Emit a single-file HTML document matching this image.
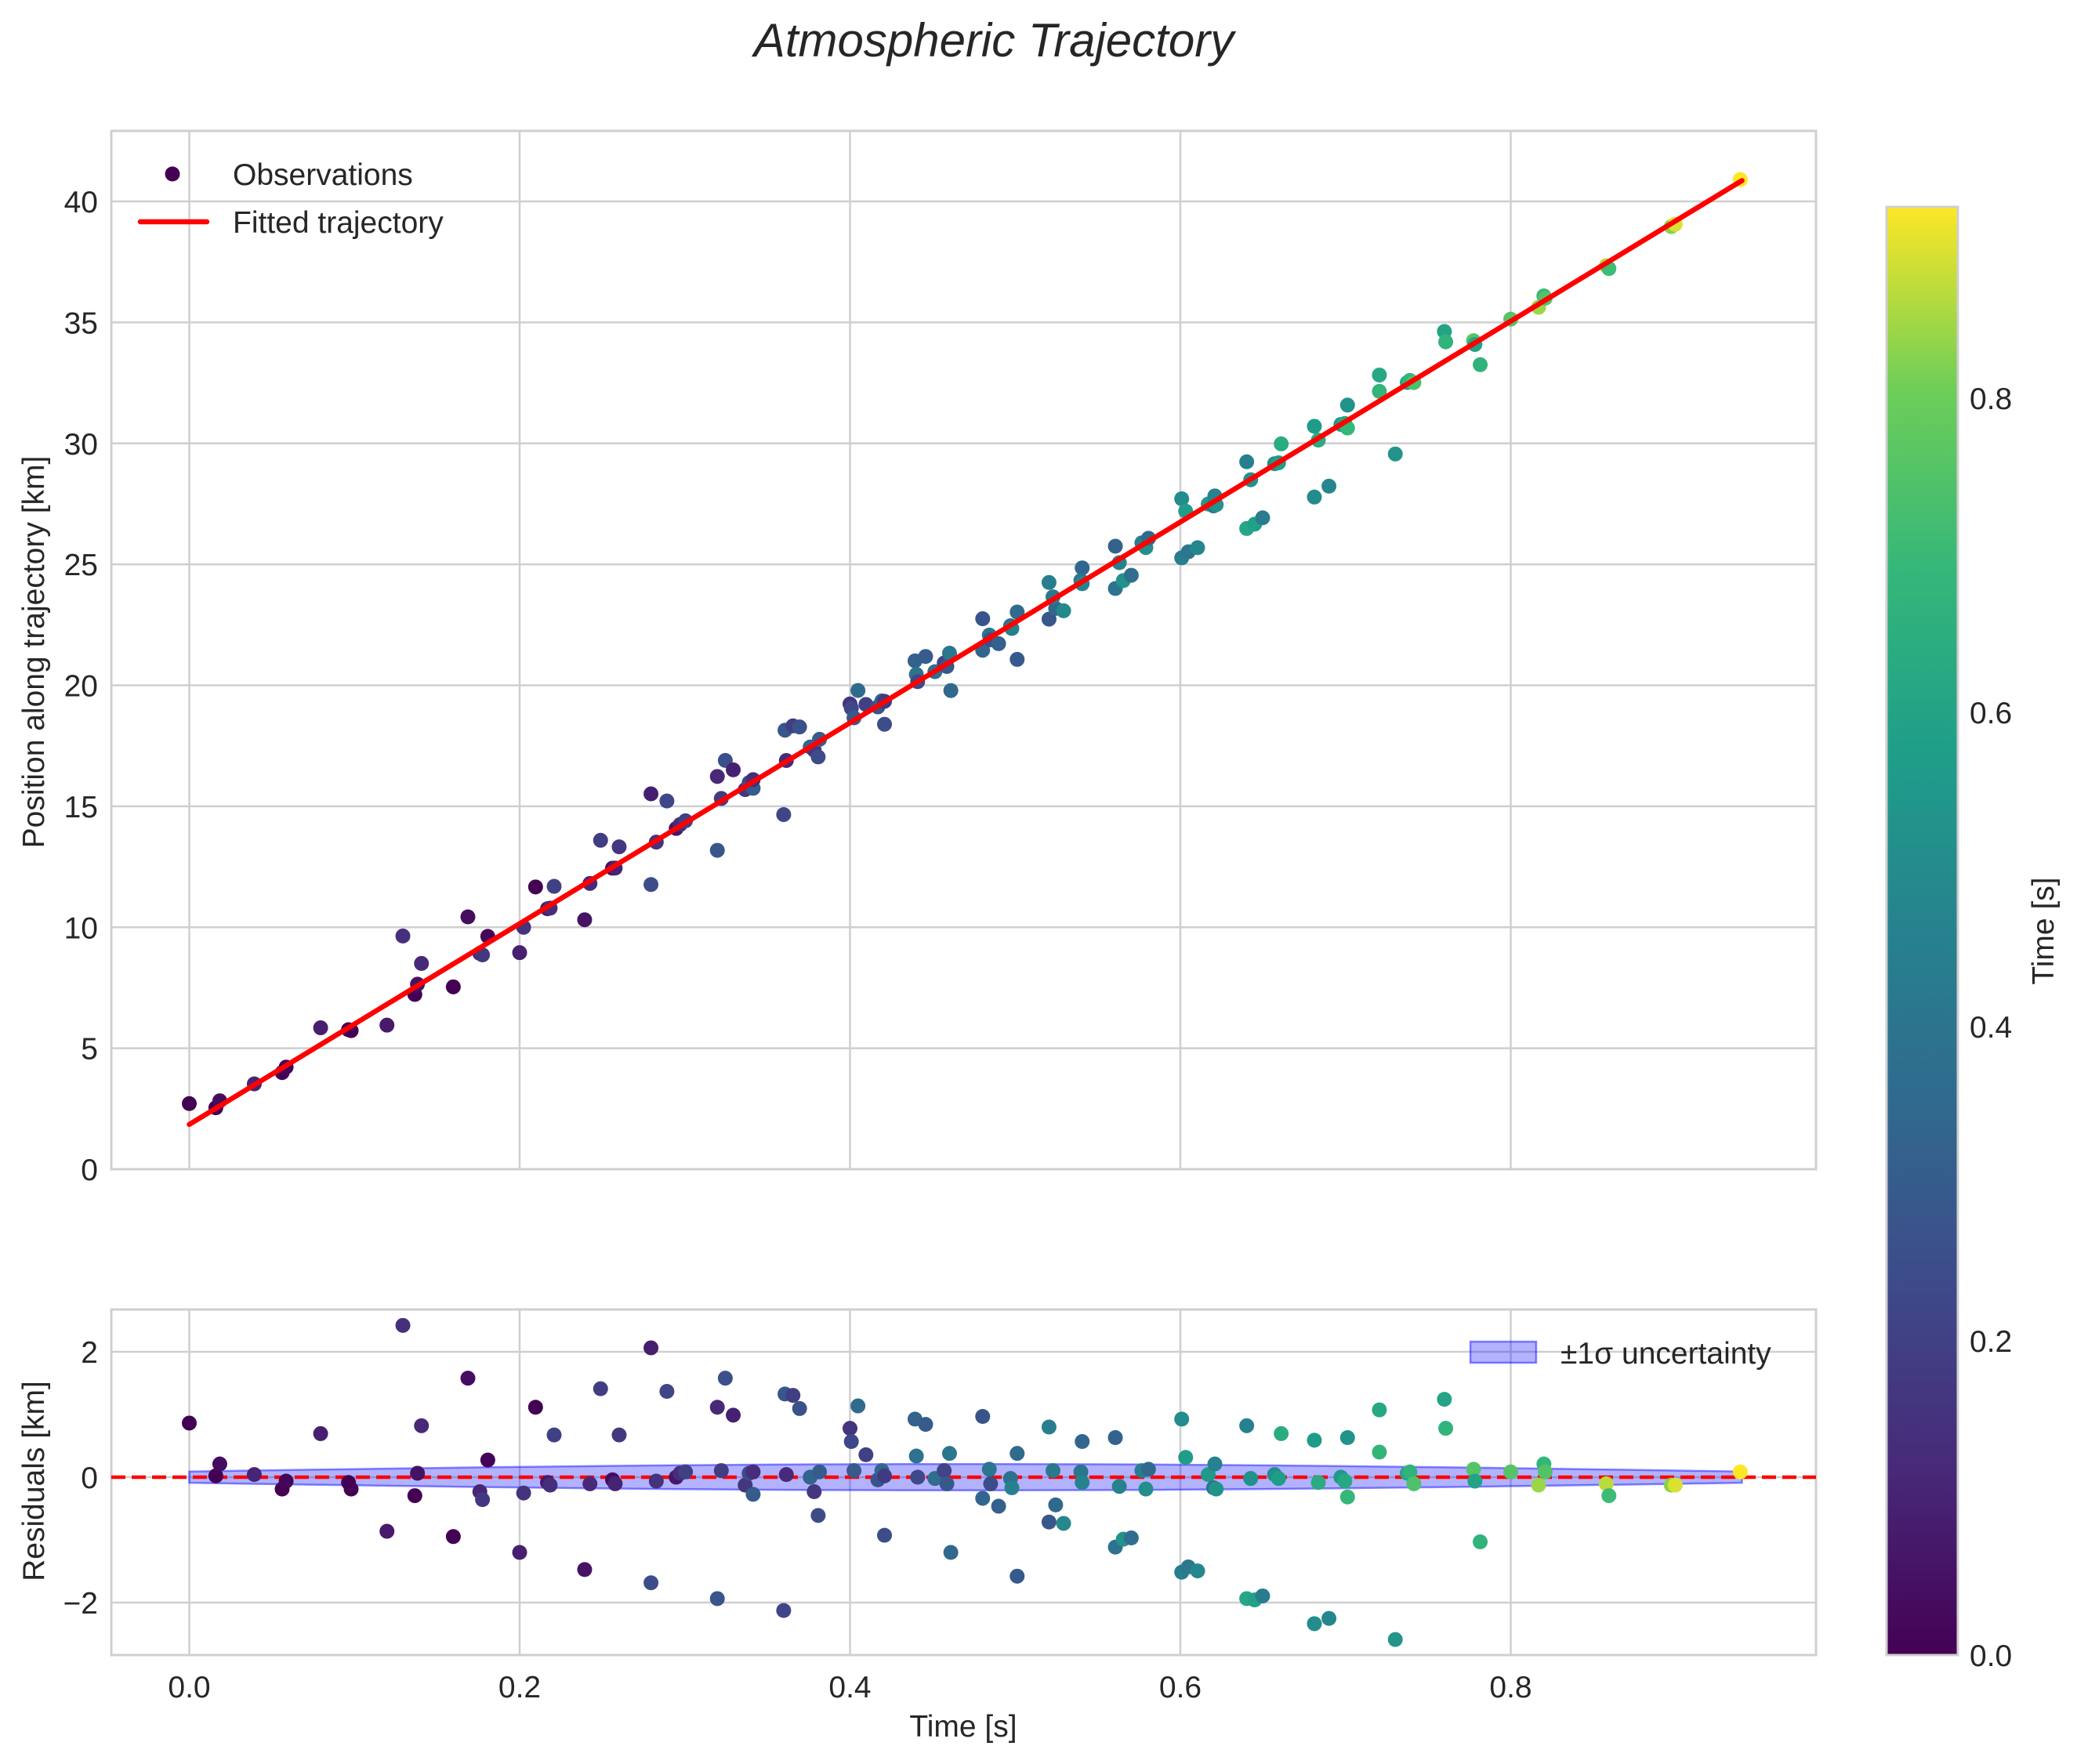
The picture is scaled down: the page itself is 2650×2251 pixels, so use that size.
<!DOCTYPE html>
<html><head><meta charset="utf-8"><style>
html,body{margin:0;padding:0;background:#fff}
svg text{font-family:"Liberation Sans",sans-serif;fill:#262626}
</style></head><body>
<svg id="s" width="2650" height="2246" xmlns="http://www.w3.org/2000/svg">
<defs>
<linearGradient id="vir" x1="0" y1="1" x2="0" y2="0">
<stop offset="0" stop-color="#440154"/><stop offset="0.125" stop-color="#482878"/>
<stop offset="0.25" stop-color="#3e4989"/><stop offset="0.375" stop-color="#31688e"/>
<stop offset="0.5" stop-color="#26828e"/><stop offset="0.625" stop-color="#1f9e89"/>
<stop offset="0.75" stop-color="#35b779"/><stop offset="0.875" stop-color="#6ece58"/>
<stop offset="1" stop-color="#fde725"/>
</linearGradient>
</defs>
<rect width="2650" height="2246" fill="#fff"/>
<text x="1268" y="72" font-size="60" font-style="italic" text-anchor="middle">Atmospheric Trajectory</text>
<g id="g"></g>
</svg>
<script>
(function(){
const NS="http://www.w3.org/2000/svg",g=document.getElementById('g');
function el(t,a,txt){const e=document.createElementNS(NS,t);for(const k in a)e.setAttribute(k,a[k]);if(txt!==undefined)e.textContent=txt;g.appendChild(e);return e;}
const X=v=>241.5+2107.5*v;
const YT=v=>1492-30.875*v;
const YB=v=>1885-80*v;
const FS=39;
const vs=[[0,68,1,84],[0.125,72,40,120],[0.25,62,73,137],[0.375,49,104,142],[0.5,38,130,142],[0.625,31,158,137],[0.75,53,183,121],[0.875,110,206,88],[1,253,231,37]];
function vir(t){t=Math.max(0,Math.min(1,t));for(let i=1;i<vs.length;i++){if(t<=vs[i][0]){const a=vs[i-1],b=vs[i],f=(t-a[0])/(b[0]-a[0]);return 'rgb('+Math.round(a[1]+f*(b[1]-a[1]))+','+Math.round(a[2]+f*(b[2]-a[2]))+','+Math.round(a[3]+f*(b[3]-a[3]))+')';}}return 'rgb(253,231,37)';}
const AT=[142,167,2317,1492],AB=[142,1671,2317,2112];
[0,0.2,0.4,0.6,0.8].forEach(v=>{[AT,AB].forEach(b=>el('line',{x1:X(v),x2:X(v),y1:b[1],y2:b[3],stroke:'#cfcfcf','stroke-width':2.5}));
el('text',{x:X(v),y:2166,'font-size':FS,'text-anchor':'middle'},v.toFixed(1));});
for(let v=0;v<=40;v+=5){el('line',{x1:142,x2:2317,y1:YT(v),y2:YT(v),stroke:'#cfcfcf','stroke-width':2.5});el('text',{x:125,y:YT(v)+14,'font-size':FS,'text-anchor':'end'},String(v));}
[-2,0,2].forEach(v=>{el('line',{x1:142,x2:2317,y1:YB(v),y2:YB(v),stroke:'#cfcfcf','stroke-width':2.5});el('text',{x:125,y:YB(v)+14,'font-size':FS,'text-anchor':'end'},v<0?'\u22122':String(v));});
[AT,AB].forEach(b=>el('rect',{x:b[0],y:b[1],width:b[2]-b[0],height:b[3]-b[1],fill:'none',stroke:'#cfcfcf','stroke-width':3}));
const D=[[143,1074],[163,1114],[166,1105],[192,1113],[213,1124],[216,1118],[242,1082],[263,1119],[265,1124],[292,1156],[304,1000],[313,1129],[315,1112],[318,1076],[342,1160],[353,1040],[362,1126],[364,1132],[368,1102],[392,1172],[395,1127],[404,1062],[413,1119],[415,1121],[418,1083],[441,1185],[445,1120],[453,1048],[462,1117],[464,1120],[467,1083],[491,1195],[491,1017],[495,1118],[503,1050],[510,1115],[513,1112],[517,1111],[541,1207],[541,1062],[544,1110],[547,1040],[553,1068],[562,1121],[565,1112],[568,1128],[568,1111],[591,1216],[592,1052],[593,1113],[598,1053],[603,1063],[611,1115],[614,1126],[617,1144],[618,1111],[641,1078],[642,1088],[644,1110],[647,1061],[653,1098],[662,1117],[665,1110],[667,1114],[667,1159],[690,1071],[691,1099],[692,1115],[698,1075],[705,1116],[712,1110],[714,1120],[717,1172],[716,1097],[741,1069],[741,1131],[746,1109],[747,1120],[753,1137],[762,1116],[763,1123],[767,1190],[767,1097],[791,1077],[791,1149],[796,1136],[794,1110],[802,1150],[816,1088],[815,1111],[816,1119],[841,1085],[841,1168],[844,1122],[847,1162],[853,1161],[861,1110],[864,1124],[866,1109],[891,1187],[891,1071],[894,1100],[896,1183],[903,1186],[911,1113],[915,1123],[916,1105],[917,1124],[940,1207],[940,1076],[943,1116],[946,1208],[952,1205],[961,1113],[964,1116],[966,1082],[991,1226],[991,1087],[994,1119],[1002,1222],[1011,1115],[1014,1118],[1016,1130],[1016,1085],[1040,1064],[1040,1096],[1052,1238],[1061,1112],[1063,1111],[1066,1120],[1089,1056],[1090,1078],[1111,1109],[1112,1118],[1116,1164],[1139,1111],[1160,1121],[1164,1105],[1165,1111],[1211,1120],[1213,1129],[1260,1121],[1263,1121],[1312,1111]];
const P=D.map(function(d){return [(d[0]-143)/1245,(1115-d[1])/47.5];});
let up=[],dn=[];for(let i=0;i<=40;i++){const x=0.94*i/40,w=0.09+0.12*Math.sin(Math.PI*i/40);up.push(X(x)+','+YB(w));dn.unshift(X(x)+','+YB(-w));}
el('polygon',{points:up.concat(dn).join(' '),fill:'rgba(0,0,255,0.3)',stroke:'rgba(0,0,255,0.45)','stroke-width':2.5});
el('line',{x1:142,x2:2317,y1:YB(0),y2:YB(0),stroke:'#ff0000','stroke-width':4.5,'stroke-dasharray':'18 8'});
P.forEach(function(p,i){const x=p[0],r=p[1];const t=Math.pow(x/0.94,1.5)+((i*37)%7-3)*0.035;const c=vir(t);
el('circle',{cx:X(x),cy:YB(r),r:9.5,fill:c});
el('circle',{cx:X(x),cy:YT(1.85+41.5*x+r),r:9.5,fill:c});});
el('line',{x1:X(0),y1:YT(1.85),x2:X(0.94),y2:YT(1.85+41.5*0.94),stroke:'#ff0000','stroke-width':6.5,'stroke-linecap':'round'});
el('circle',{cx:220,cy:222,r:9.5,fill:'#440154'});
el('text',{x:297,y:236,'font-size':FS},'Observations');
el('line',{x1:179,x2:264,y1:283,y2:283,stroke:'#ff0000','stroke-width':6.5,'stroke-linecap':'round'});
el('text',{x:297,y:297,'font-size':FS},'Fitted trajectory');
el('rect',{x:1876,y:1712,width:84,height:27,fill:'rgba(0,0,255,0.3)',stroke:'rgba(0,0,255,0.45)','stroke-width':2.5});
el('text',{x:1991,y:1740,'font-size':FS},'\u00b11\u03c3 uncertainty');
el('text',{x:0,y:0,'font-size':FS,'text-anchor':'middle',transform:'translate(56,832) rotate(-90)'},'Position along trajectory [km]');
el('text',{x:0,y:0,'font-size':FS,'text-anchor':'middle',transform:'translate(56,1890) rotate(-90)'},'Residuals [km]');
el('text',{x:1229,y:2216,'font-size':FS,'text-anchor':'middle'},'Time [s]');
el('rect',{x:2407,y:264,width:91,height:1848,fill:'url(#vir)',stroke:'#cfcfcf','stroke-width':3});
[0,0.2,0.4,0.6,0.8].forEach(v=>el('text',{x:2513,y:2112-2005*v+14,'font-size':FS},v.toFixed(1)));
el('text',{x:0,y:0,'font-size':FS,'text-anchor':'middle',transform:'translate(2620,1188) rotate(-90)'},'Time [s]');
})();
</script>
</body></html>
